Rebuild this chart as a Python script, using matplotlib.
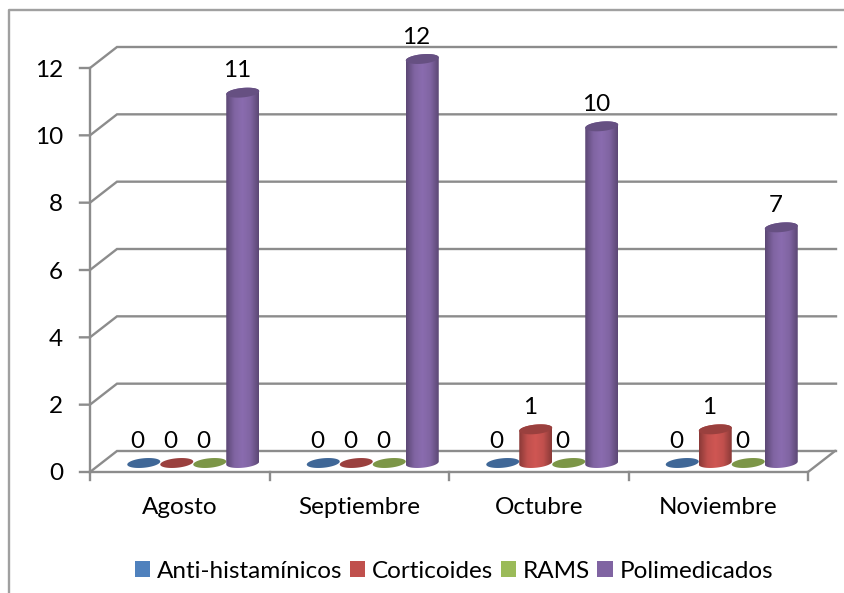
import matplotlib as mpl
mpl.use("Agg")
import matplotlib.pyplot as plt
import numpy as np
from matplotlib.colors import LinearSegmentedColormap
from matplotlib.patches import Patch, PathPatch, Polygon
from matplotlib.path import Path

plt.rcParams["font.family"] = ["Lato", "DejaVu Sans"]

months = ["Agosto", "Septiembre", "Octubre", "Noviembre"]
series = ["Anti-histamínicos", "Corticoides", "RAMS", "Polimedicados"]
antihist = [0, 0, 0, 0]
corticoides = [0, 0, 1, 1]
rams = [0, 0, 0, 0]
polimed = [11, 12, 10, 7]
yticks = [0, 2, 4, 6, 8, 10, 12]

BLUE = "#4f81bd"
RED = "#c0504d"
GREEN = "#9bbb59"
PURPLE = "#8064a2"
GRID = "#8c8c8c"
FRAME = "#a0a0a0"
FS = 17.5

W, H = 844, 593
X0, X1, Y0, Y1 = 90, 808, 472, 68  # plot front plane in pixels
fig = plt.figure(figsize=(W / 100, H / 100), dpi=100)
ax = fig.add_axes([X0 / W, 1 - Y0 / H, (X1 - X0) / W, (Y0 - Y1) / H])
ax.set_xlim(0, 4)
ax.set_ylim(0, 12)
ax.axis("off")

px = 4 / (X1 - X0)
py = 12 / (Y0 - Y1)
depth_x, depth_y = 27 * px, 21 * py
bar_w = 33 * px
ell_h = 9.5 * py
tilt = 1.5 * py
floor_x, floor_y = 13.5 * px, 9 * py

# walls and grid
for v in yticks:
    ax.plot([-10 * px, 0, depth_x, 4 + depth_x + px], [v, v, v + depth_y, v + depth_y],
            color=GRID, lw=1.7, clip_on=False, zorder=1, solid_joinstyle="miter")
    ax.text(-27 * px, v - 2 * py, str(v), ha="right", va="center", fontsize=FS, color="black")
ax.plot([0, 0], [0, 12], color=GRID, lw=1.7, clip_on=False, zorder=1)
ax.plot([0, 4, 4 + depth_x], [0, 0, depth_y], color=GRID, lw=1.7, clip_on=False, zorder=1)
for i in range(5):
    ax.plot([i, i], [0, -8 * py], color=GRID, lw=1.7, clip_on=False, zorder=1)
for i, m in enumerate(months):
    ax.text(i + 0.5, -35 * py, m, ha="center", va="center", fontsize=FS)


def ellipse_pts(cx, cy, t):
    return np.column_stack([cx + bar_w / 2 * np.cos(t),
                            cy + ell_h / 2 * np.sin(t) + tilt * np.cos(t)])


def shade(col, f):
    rgb = np.array(mpl.colors.to_rgb(col))
    return tuple(np.clip(rgb * f, 0, 1))


def cylinder(cx, v, col, z):
    base = floor_y
    if v == 0:
        ax.add_patch(Polygon(ellipse_pts(cx, base, np.linspace(0, 2 * np.pi, 60)),
                             fc=shade(col, 0.8), ec="none", zorder=z, clip_on=False))
        return
    top = base + v
    low = ellipse_pts(cx, base, np.linspace(np.pi, 2 * np.pi, 40))
    up = ellipse_pts(cx, top, np.linspace(0, np.pi, 40))
    body = np.vstack([low, up, low[:1]])
    cm = LinearSegmentedColormap.from_list(
        "c", [shade(col, 0.72), shade(col, 1.0), shade(col, 1.08), shade(col, 1.0), shade(col, 0.72)])
    im = ax.imshow(np.linspace(0, 1, 64)[None, :], cmap=cm, aspect="auto", zorder=z,
                   extent=[cx - bar_w / 2, cx + bar_w / 2, base - ell_h, top + ell_h],
                   vmin=0, vmax=1)
    clip = PathPatch(Path(body), transform=ax.transData, fc="none", ec="none", clip_on=False)
    ax.add_patch(clip)
    im.set_clip_path(clip)
    im.set_clip_box(fig.bbox)  # the 12 bar rises above the top of the axes
    ax.add_patch(Polygon(ellipse_pts(cx, top, np.linspace(0, 2 * np.pi, 60)),
                         fc=shade(col, 0.8), ec="none", zorder=z + 0.5, clip_on=False))


groups = [antihist, corticoides, rams, polimed]
colors = [BLUE, RED, GREEN, PURPLE]
for s, (vals, col) in enumerate(zip(groups, colors)):
    for i, v in enumerate(vals):
        cx = i + 0.5 + floor_x + (s - 1.5) * bar_w
        cylinder(cx, v, col, 3 + s)
        ax.text(cx - 6 * px, floor_y + v + 22 * py, str(v), ha="center", va="center",
                fontsize=FS, zorder=10)
ax.set_xlim(0, 4)
ax.set_ylim(0, 12)

# chart frame, open to the right and bottom as in the cropped source
fig.add_artist(plt.Line2D([9 / W, 9 / W, 1], [0, 1 - 10 / H, 1 - 10 / H], color=FRAME, lw=1.7))

handles = [Patch(fc=c, ec="none", label=n) for c, n in zip(colors, series)]
fig.legend(handles=handles, loc="center", bbox_to_anchor=(454 / W, 1 - 571 / H), ncol=4,
           frameon=False, fontsize=FS, handlelength=0.62, handleheight=0.62,
           handletextpad=0.3, columnspacing=0.3, borderpad=0, borderaxespad=0)

fig.savefig("out.png", dpi=100, facecolor="white")
